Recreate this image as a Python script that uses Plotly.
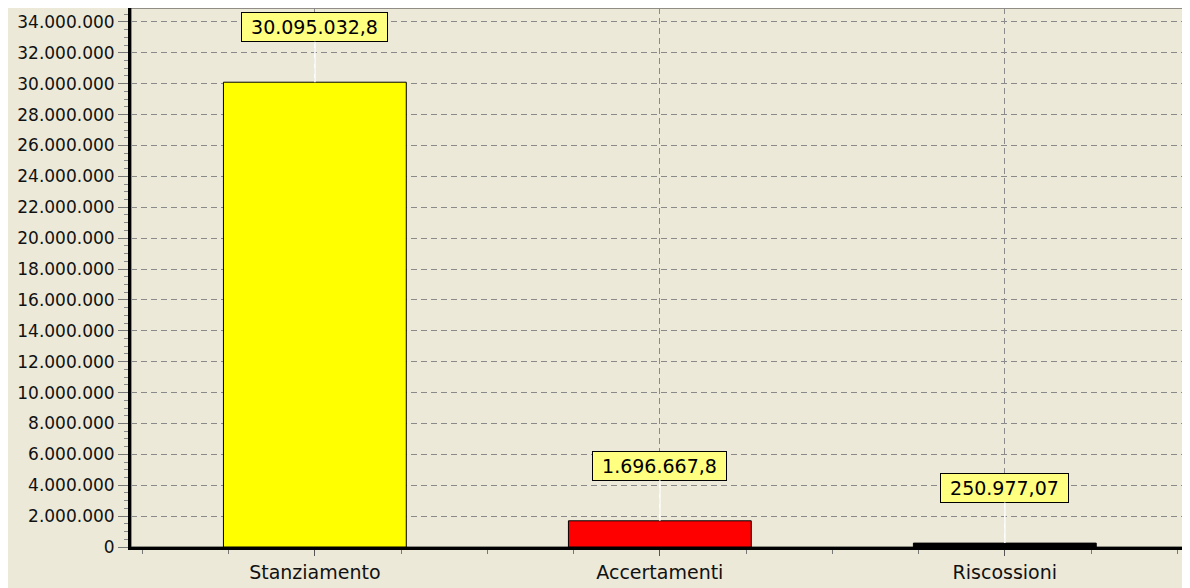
import plotly.graph_objects as go

categories = ['Stanziamento', 'Accertamenti', 'Riscossioni']
values = [30095032.8, 1696667.8, 250977.07]
value_labels = ['30.095.032,8', '1.696.667,8', '250.977,07']
bar_colors = ['#ffff00', '#ff0000', '#000000']

x_pos = list(range(len(categories)))

fig = go.Figure()

fig.add_trace(go.Bar(
    x=x_pos, y=values,
    width=0.53,
    marker=dict(color=bar_colors, line=dict(color='#000000', width=1)),
    hoverinfo='skip'
))

# value labels: yellow boxes joined to the bar by a white line
for xp, v, lab in zip(x_pos, values, value_labels):
    fig.add_annotation(
        x=xp, y=v, text='\u00a0' + lab + '\u00a0',
        showarrow=True, arrowhead=0, arrowwidth=1.5, arrowcolor='#ffffff',
        ax=0, ay=-55, standoff=0,
        bgcolor='#ffff80', bordercolor='#000000', borderwidth=1, borderpad=3,
        font=dict(family='DejaVu Sans', size=19, color='#000000')
    )

# thin frame on top/right
fig.add_shape(type='rect', xref='paper', yref='paper', x0=0, y0=0, x1=1, y1=1,
              line=dict(color='#333333', width=1), layer='below')

# page body has an 8px margin, so the figure is sized to fit the window
fig.update_layout(
    width=1182, height=580,
    margin=dict(l=123, r=2, t=0, b=41),
    paper_bgcolor='#ece9d8',
    plot_bgcolor='#ece9d8',
    separators=',.',
    showlegend=False,
    font=dict(family='DejaVu Sans', size=17, color='#111111'),
    xaxis=dict(
        range=[-0.533, 2.531],
        tickvals=x_pos, ticktext=categories,
        tickfont=dict(size=19),
        showgrid=True, gridcolor='#8a8a8a', griddash='6px,4px', gridwidth=1,
        ticks='outside', ticklen=6, tickcolor='#555555',
        minor=dict(dtick=0.25, tick0=0, ticks='outside', ticklen=4, tickcolor='#777777', showgrid=False),
        showline=True, linecolor='#000000', linewidth=3,
        zeroline=False, fixedrange=True
    ),
    yaxis=dict(
        range=[0, 34900000],
        dtick=2000000, tickformat=',d',
        showgrid=True, gridcolor='#8a8a8a', griddash='6px,4px', gridwidth=1,
        ticks='outside', ticklen=10, tickcolor='#777777',
        minor=dict(dtick=500000, ticks='outside', ticklen=4, tickcolor='#888888', showgrid=False),
        showline=True, linecolor='#000000', linewidth=3,
        zeroline=False, fixedrange=True
    )
)

fig.write_html("out.html")
